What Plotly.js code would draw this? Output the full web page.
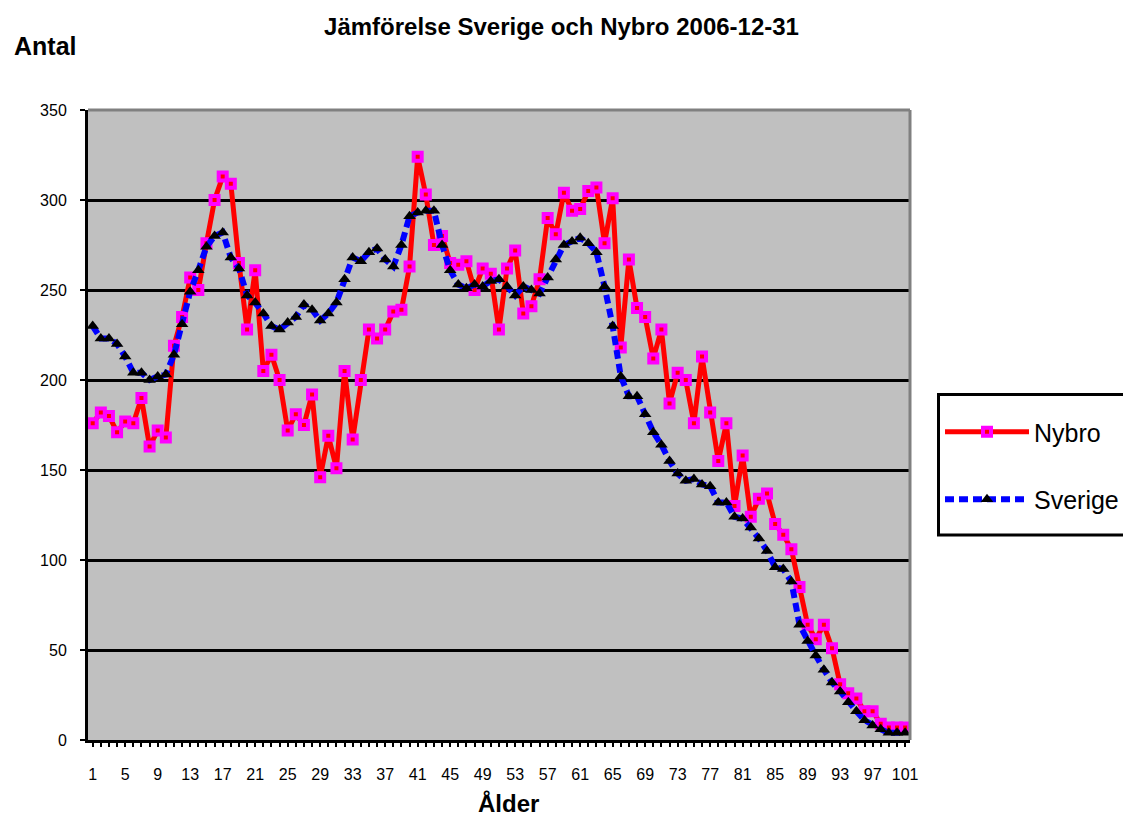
<!DOCTYPE html>
<html>
<head>
<meta charset="utf-8">
<script src="https://cdn.plot.ly/plotly-3.0.1.min.js"></script>
<style>html,body{margin:0;padding:0;background:#fff;}#chart{width:1123px;height:816px;}</style>
</head>
<body>
<div id="chart"></div>
<script>
var ages = [1,2,3,4,5,6,7,8,9,10,11,12,13,14,15,16,17,18,19,20,
  21,22,23,24,25,26,27,28,29,30,31,32,33,34,35,36,37,38,39,40,
  41,42,43,44,45,46,47,48,49,50,51,52,53,54,55,56,57,58,59,60,
  61,62,63,64,65,66,67,68,69,70,71,72,73,74,75,76,77,78,79,80,
  81,82,83,84,85,86,87,88,89,90,91,92,93,94,95,96,97,98,99,100,101];

var nybro = [176,182,180,171,177,176,190,163,172,168,
  219,235,257,250,276,300,313,309,265,228,
  261,205,214,200,172,181,175,192,146,169,
  151,205,167,200,228,223,228,238,239,263,
  324,303,275,280,265,264,266,250,262,259,
  228,262,272,237,241,256,290,281,304,294,
  295,305,307,276,301,218,267,240,235,212,
  228,187,204,200,176,213,182,155,176,130,
  158,124,134,137,120,114,106,85,64,56,
  64,51,31,26,23,16,16,9,7,7,7];

var sverige = [230,223,223,220,213,204,204,200,202,203,
  214,231,249,261,274,280,282,268,262,247,
  243,237,230,228,232,235,242,239,233,237,
  243,256,268,266,271,273,267,263,275,291,
  293,294,294,275,261,253,251,253,252,255,
  256,252,247,252,250,248,257,267,275,277,
  279,276,271,252,230,202,191,191,181,171,
  164,155,148,144,145,142,141,132,132,124,
  123,118,112,105,96,95,88,64,55,47,
  39,32,27,21,16,11,8,6,4,4,4];

var xTickVals = [1,5,9,13,17,21,25,29,33,37,41,45,49,53,57,61,65,69,73,77,81,85,89,93,97,101];
var yTickVals = [0,50,100,150,200,250,300,350];

var titleText = 'Jämförelse Sverige och Nybro 2006-12-31';
var yTitle = 'Antal';
var xTitle = 'Ålder';

var traces = [
  {
    x: ages, y: nybro, name: 'Nybro', type: 'scatter', mode: 'lines+markers',
    legendgroup: 'a',
    line: {color: '#FF0000', width: 5},
    marker: {symbol: 'square', size: 8, color: '#FF0000', line: {color: '#FF00FF', width: 4}}
  },
  {
    x: ages, y: sverige, name: 'Sverige', type: 'scatter', mode: 'lines+markers',
    legendgroup: 'b',
    line: {color: '#0000FF', width: 6, dash: '9px,5px'},
    marker: {symbol: 'triangle-up', size: 11, color: '#000000', line: {width: 0}}
  }
];

var PW = 822, PH = 630, L = 88, B = 740;
function px(x) { return (x - L) / PW; }
function py(y) { return (B - y) / PH; }

var layout = {
  width: 1123, height: 816,
  margin: {l: 88, r: 213, t: 110, b: 76, autoexpand: false},
  paper_bgcolor: '#FFFFFF', plot_bgcolor: '#C0C0C0',
  font: {family: '"Liberation Sans", Arial, sans-serif', color: '#000000'},
  title: {
    text: '<b>' + titleText + '</b>', font: {size: 24, color: '#000000'},
    x: 0.5, xref: 'container', xanchor: 'center',
    y: 1 - 27/816, yref: 'container', yanchor: 'middle'
  },
  xaxis: {
    range: [0.42, 101.6], tickmode: 'array', tickvals: xTickVals,
    ticks: 'outside', ticklen: 4, tickwidth: 2, tickcolor: '#000',
    minor: {tick0: 0, dtick: 1, ticks: 'outside', ticklen: 4, tickwidth: 2, tickcolor: '#000', showgrid: false},
    showline: true, linecolor: '#000', linewidth: 3,
    showgrid: false, zeroline: false,
    tickfont: {size: 16, color: '#000'}, ticklabelstandoff: 14
  },
  yaxis: {
    range: [0, 350], tickmode: 'array', tickvals: yTickVals,
    ticks: 'outside', ticklen: 5, tickwidth: 2, tickcolor: '#000',
    showline: true, linecolor: '#000', linewidth: 3,
    showgrid: true, gridcolor: '#000', gridwidth: 3, zeroline: false,
    tickfont: {size: 16, color: '#000'}, ticklabelstandoff: 10
  },
  legend: {
    x: px(940), xanchor: 'left',
    y: py(409), yanchor: 'top',
    bgcolor: 'rgba(0,0,0,0)', borderwidth: 0,
    font: {size: 25, color: '#000'},
    itemwidth: 84, traceorder: 'grouped', tracegroupgap: 32
  },
  shapes: [
    {type: 'rect', xref: 'paper', yref: 'paper', x0: px(938.5), x1: px(1140), y0: py(394.5), y1: py(535),
     line: {color: '#000', width: 3}, fillcolor: '#FFFFFF', layer: 'above'},
    {type: 'line', xref: 'paper', yref: 'paper', x0: 0, x1: 1, y0: 1, y1: 1, line: {color: '#808080', width: 3}, layer: 'above'},
    {type: 'line', xref: 'paper', yref: 'paper', x0: 1, x1: 1, y0: 0, y1: 1, line: {color: '#808080', width: 3}, layer: 'above'}
  ],
  annotations: [
    {text: '<b>' + yTitle + '</b>', xref: 'paper', yref: 'paper', x: px(12), y: py(46),
     xanchor: 'left', yanchor: 'middle', showarrow: false, font: {size: 25, color: '#000'}},
    {text: '<b>' + xTitle + '</b>', xref: 'paper', yref: 'paper', x: px(508), y: py(803),
     xanchor: 'center', yanchor: 'middle', showarrow: false, font: {size: 24, color: '#000'}}
  ],
  showlegend: true
};

Plotly.newPlot('chart', traces, layout, {displayModeBar: false, responsive: false});
</script>
</body>
</html>
